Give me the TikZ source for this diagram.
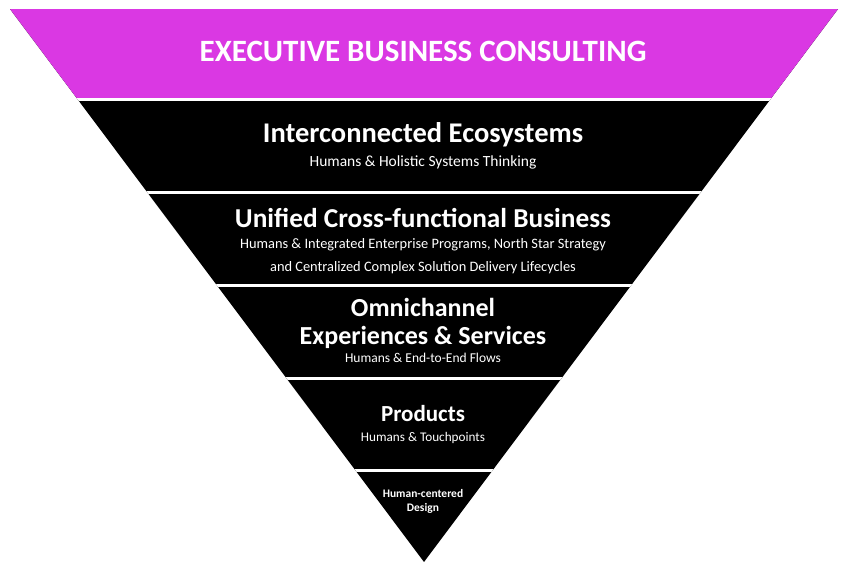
\documentclass[tikz,border=0pt]{standalone}
\usepackage{fontspec}
\setmainfont{Carlito}
\usetikzlibrary{positioning}
\definecolor{execmagenta}{RGB}{218,56,227}

\begin{document}
\begin{tikzpicture}[
  x=1pt,y=-1pt,
  heading/.style={text=white,font=\bfseries\fontsize{28}{30}\selectfont,align=center,inner sep=0pt},
  subline/.style={text=white,font=\fontsize{13.5}{23}\selectfont,align=center,inner sep=0pt},
  gap/.style={white,line width=3pt},
]
\useasboundingbox (0,0) rectangle (847,569);

% Pyramid bands
\begin{scope}
  \clip (10,9) -- (838,9) -- (424,562) -- cycle;
  \fill[black] (0,9) rectangle (847,562);
  \fill[execmagenta] (0,9) rectangle (847,99.5);
  \foreach \y in {99.5,192.5,285.5,378.5,470.5}
    \draw[gap] (0,\y) -- (847,\y);
\end{scope}

% Texts
\node[heading,font=\bfseries\fontsize{31}{34}\selectfont] (exec) at (423,51) {EXECUTIVE BUSINESS CONSULTING};

\node[heading,font=\bfseries\fontsize{28.5}{30}\selectfont] (eco) at (423,135) {Interconnected Ecosystems};
\node[subline,font=\fontsize{15.5}{20}\selectfont] (eco_sub) at (423,162) {Humans \& Holistic Systems Thinking};

\node[heading,font=\bfseries\fontsize{27.3}{30}\selectfont] (biz) at (423,218) {Unified Cross-functional Business};
\node[subline,font=\fontsize{14.4}{23}\selectfont] (biz_sub) at (423,256) {Humans \& Integrated Enterprise Programs, North Star Strategy\\and Centralized Complex Solution Delivery Lifecycles};

\node[heading,font=\bfseries\fontsize{26}{28}\selectfont] (omni) at (423,323) {Omnichannel\\Experiences \& Services};
\node[subline] (omni_sub) at (423,358) {Humans \& End-to-End Flows};

\node[heading,font=\bfseries\fontsize{23}{26}\selectfont] (prod) at (423,414) {Products};
\node[subline,font=\fontsize{13.2}{20}\selectfont] (prod_sub) at (423,438) {Humans \& Touchpoints};

\node[heading,font=\bfseries\fontsize{11.5}{14}\selectfont] (hcd) at (423,501) {Human-centered\\Design};

\end{tikzpicture}
\end{document}
